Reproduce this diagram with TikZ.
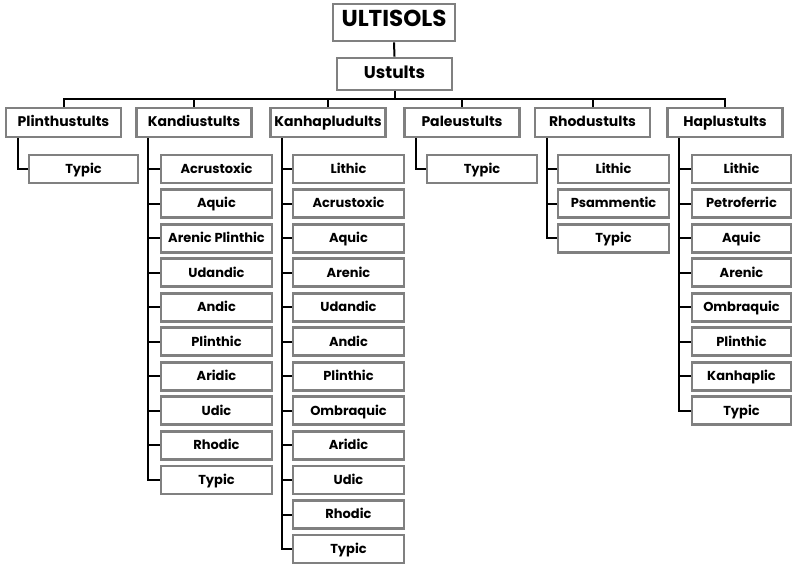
\documentclass[tikz,border=0pt]{standalone}
\usepackage{fontspec}
\setmainfont{Poppins}
\usetikzlibrary{backgrounds}
\begin{document}
\begin{tikzpicture}[x=1pt,y=-1pt,
  box/.style={draw=boxgray,line width=2.8pt,fill=white,rectangle,inner sep=0pt,text height=0.88em,text depth=0em},
  topbox/.style={box,minimum width=122,minimum height=37,font=\bfseries\fontsize{23}{25}\selectfont},
  subbox/.style={box,minimum width=115,minimum height=32,font=\bfseries\fontsize{17}{18}\selectfont},
  lone/.style={box,minimum width=115,minimum height=29,font=\bfseries\fontsize{14}{15}\selectfont},
  ltwo/.style={box,minimum width=110,minimum height=28,font=\bfseries\fontsize{13}{14}\selectfont},
  conn/.style={line width=2pt,black}]
\definecolor{boxgray}{RGB}{128,128,128}
\useasboundingbox (0,0) rectangle (793,563);
\coordinate (bus) at (0,99);
\node[topbox] (T) at (394,22.5) {ULTISOLS};
\node[subbox] (U) at (394.5,74) {Ustults};
\node[lone] (L1) at (63.5,122.5) {Plinthustults};
\node[lone] (L2) at (194,122.5) {Kandiustults};
\node[lone] (L3) at (328,122.5) {Kanhapludults};
\node[lone] (L4) at (462,122.5) {Paleustults};
\node[lone] (L5) at (592.5,122.5) {Rhodustults};
\node[lone] (L6) at (725,122.5) {Haplustults};
% children
\node[ltwo,minimum width=109] (A1) at (83.5,169) {Typic};
\foreach \t [count=\i] in {Acrustoxic,Aquic,Arenic Plinthic,Udandic,Andic,Plinthic,Aridic,Udic,Rhodic,Typic}
  \node[ltwo,minimum width=111] (B\i) at (216.5,{169+34.55*(\i-1)}) {\t};
\foreach \t [count=\i] in {Lithic,Acrustoxic,Aquic,Arenic,Udandic,Andic,Plinthic,Ombraquic,Aridic,Udic,Rhodic,Typic}
  \node[ltwo,minimum width=111] (C\i) at (348.5,{169+34.55*(\i-1)}) {\t};
\node[ltwo] (D1) at (482,169) {Typic};
\foreach \t [count=\i] in {Lithic,Psammentic,Typic}
  \node[ltwo,minimum width=111] (E\i) at (613.5,{169+34.55*(\i-1)}) {\t};
\foreach \t [count=\i] in {Lithic,Petroferric,Aquic,Arenic,Ombraquic,Plinthic,Kanhaplic,Typic}
  \node[ltwo,minimum width=99] (F\i) at (741.5,{169+34.55*(\i-1)}) {\t};
% connectors
\begin{pgfonlayer}{background}
\fill[white] (0,0) rectangle (793,563);
\draw[conn] (T.south) -- (U.north);
\foreach \n in {L1,L2,L3,L4,L5,L6}
  \draw[conn] (U.south) -- (U.south |- bus) -| (\n.north);
\draw[conn] ([xshift=13pt]L1.south west) |- (A1.west);
\foreach \i in {1,...,10} \draw[conn] ([xshift=13pt]L2.south west) |- (B\i.west);
\foreach \i in {1,...,12} \draw[conn] ([xshift=13pt]L3.south west) |- (C\i.west);
\draw[conn] ([xshift=13pt]L4.south west) |- (D1.west);
\foreach \i in {1,...,3} \draw[conn] ([xshift=13pt]L5.south west) |- (E\i.west);
\foreach \i in {1,...,8} \draw[conn] ([xshift=13pt]L6.south west) |- (F\i.west);
\end{pgfonlayer}
\end{tikzpicture}
\end{document}
